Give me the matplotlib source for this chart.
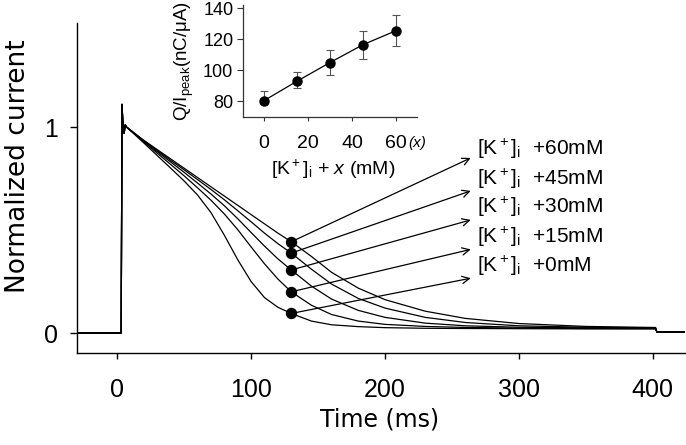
import numpy as np
import matplotlib
matplotlib.use("Agg")
import matplotlib.pyplot as plt

plt.rcParams['font.family'] = ['Liberation Sans', 'DejaVu Sans']
plt.rcParams['mathtext.fontset'] = 'custom'
plt.rcParams['mathtext.rm'] = 'Liberation Sans'
plt.rcParams['mathtext.it'] = 'Liberation Sans:italic'
plt.rcParams['mathtext.bf'] = 'Liberation Sans:bold'

# --- main traces ---
onset_t = [-30, 3.0, 3.6, 4.4, 5.2, 6.0]
onset_y = [0, 0, 1.11, 1.0, 0.97, 1.01]

t = [7, 20, 40, 50, 60, 70, 80, 90, 100, 110, 120, 130, 145, 160, 180, 200, 230, 260, 300, 350, 400]
cur_60 = [1.0, 0.935, 0.845, 0.80, 0.755, 0.71, 0.665, 0.62, 0.575, 0.53, 0.485, 0.443, 0.372, 0.295, 0.218, 0.162, 0.106, 0.071, 0.046, 0.032, 0.027]
cur_45 = [1.0, 0.933, 0.838, 0.792, 0.745, 0.697, 0.647, 0.594, 0.54, 0.485, 0.434, 0.388, 0.31, 0.238, 0.168, 0.121, 0.076, 0.051, 0.035, 0.028, 0.025]
cur_30 = [1.0, 0.93, 0.83, 0.78, 0.728, 0.675, 0.618, 0.555, 0.488, 0.422, 0.36, 0.306, 0.228, 0.165, 0.11, 0.076, 0.048, 0.035, 0.028, 0.025, 0.023]
cur_15 = [1.0, 0.927, 0.818, 0.763, 0.705, 0.645, 0.578, 0.502, 0.418, 0.336, 0.262, 0.200, 0.135, 0.09, 0.058, 0.042, 0.032, 0.027, 0.024, 0.022, 0.021]
cur_0 = [1.0, 0.922, 0.80, 0.738, 0.67, 0.585, 0.475, 0.356, 0.250, 0.172, 0.125, 0.095, 0.058, 0.04, 0.031, 0.026, 0.023, 0.022, 0.021, 0.02, 0.02]

tail_t = [402, 403, 424]
tail_y = [0.024, 0.005, 0.005]

labels = ['+60mM', '+45mM', '+30mM', '+15mM', '+0mM']
label_y = [0.864, 0.718, 0.581, 0.435, 0.298]
arrow_y = [0.85, 0.69, 0.549, 0.406, 0.266]
mark_t = 130
arrow_t = 264
label_t = 269

# --- inset data ---
k_x = [0, 15, 30, 45, 60]
q_ipeak = [80.5, 93, 105, 116.5, 125.5]
err_lo = [0, 4.5, 8, 9.5, 10]
err_hi = [6, 6, 8, 9, 10]

fig = plt.figure(figsize=(6.86, 4.45), dpi=100)
ax = fig.add_axes([77 / 686, (445 - 353) / 445, 608 / 686, 330 / 445])

curves = [cur_60, cur_45, cur_30, cur_15, cur_0]
i130 = t.index(mark_t)
for c in curves:
    xs = onset_t + t + tail_t
    ys = onset_y + c + [c[-1], tail_y[1], tail_y[2]]
    ax.plot(xs, ys, color='black', lw=0.9)

for c, lab, ly, ay in zip(curves, labels, label_y, arrow_y):
    ax.annotate('', xy=(arrow_t, ay), xytext=(mark_t, c[i130]),
                arrowprops=dict(arrowstyle='->', lw=0.9, color='black',
                                mutation_scale=13, shrinkA=0, shrinkB=0))
    ax.plot(mark_t, c[i130], 'o', color='black', ms=7.2, zorder=5)
    ax.text(label_t, ly, r'[K$^+$]$_\mathrm{i}$  ' + lab, fontsize=15, va='baseline', ha='left')

ax.set_xlim(-30, 424)
ax.set_ylim(-0.097, 1.505)
ax.set_xticks([0, 100, 200, 300, 400])
ax.set_yticks([0, 1])
ax.spines['top'].set_visible(False)
ax.spines['right'].set_visible(False)
for s in ['left', 'bottom']:
    ax.spines[s].set_linewidth(1.0)
ax.tick_params(axis='y', direction='out', length=5, width=1, labelsize=18, pad=9)
ax.tick_params(axis='x', direction='out', length=4, width=1, labelsize=18, pad=14)
ax.set_xlabel('Time (ms)', fontsize=17, family='DejaVu Sans')
ax.xaxis.set_label_coords(0.498, -0.165)
ax.set_ylabel('Normalized current', fontsize=19, family='DejaVu Sans')
ax.yaxis.set_label_coords(-0.075, 0.565)

# --- inset ---
axi = fig.add_axes([243 / 686, (445 - 117) / 445, 174 / 686, 112 / 445])
axi.errorbar(k_x, q_ipeak, yerr=[err_lo, err_hi], fmt='none', ecolor='#555555',
             elinewidth=0.8, capsize=3, capthick=0.8)
axi.plot(k_x, q_ipeak, '-', color='black', lw=0.9)
axi.plot(k_x, q_ipeak, 'o', color='black', ms=6.5)
axi.set_xlim(-9.5, 69.5)
axi.set_ylim(70, 142)
axi.set_xticks([0, 20, 40, 60])
axi.set_yticks([80, 100, 120, 140])
axi.spines['top'].set_visible(False)
axi.spines['right'].set_visible(False)
for s in ['left', 'bottom']:
    axi.spines[s].set_color('#333333')
    axi.spines[s].set_linewidth(0.9)
axi.tick_params(axis='y', direction='out', length=4, width=0.8, labelsize=13, pad=3, color='#333333')
axi.tick_params(axis='x', direction='out', length=3, width=0.8, labelsize=14, pad=10, color='#333333')
axi.text(1.0, -0.235, '(x)', transform=axi.transAxes, fontsize=11, style='italic',
         ha='center', va='center')
axi.set_xlabel(r'[K$^+$]$_\mathrm{i}$ + $x$ (mM)', fontsize=14)
axi.xaxis.set_label_coords(0.52, -0.36)
axi.set_ylabel(r'Q/I$_\mathrm{peak}$(nC/μA)', fontsize=13.5)
axi.yaxis.set_label_coords(-0.27, 0.5)

fig.savefig('out.png', dpi=100)
